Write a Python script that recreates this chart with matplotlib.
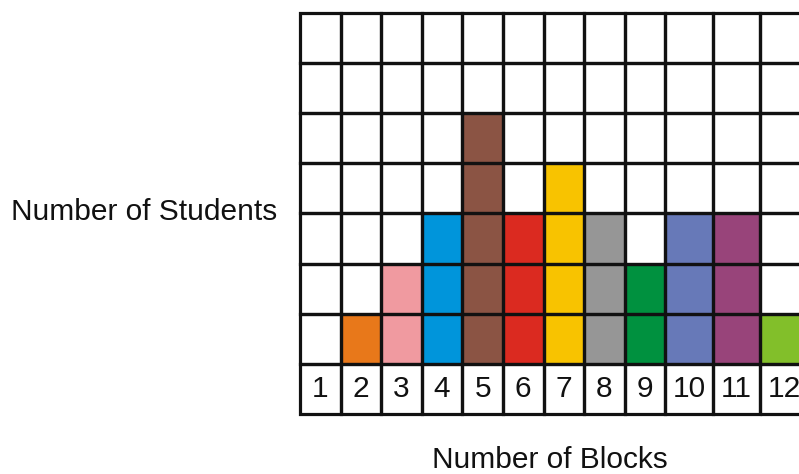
import matplotlib
matplotlib.use("Agg")
import matplotlib.pyplot as plt
from matplotlib.patches import Rectangle

plt.rcParams['font.family'] = ['Liberation Sans', 'DejaVu Sans']

# Data
blocks = ["1", "2", "3", "4", "5", "6", "7", "8", "9", "10", "11", "12"]
students = [0, 1, 2, 3, 5, 3, 4, 3, 2, 3, 3, 1]
colors = ["#FFFFFF", "#E8781A", "#F09AA0", "#0095DB", "#8B5444", "#DB2A20",
          "#F8C300", "#969696", "#00913F", "#6779B8", "#98447A", "#82BF2A"]
n_rows = 7

# Layout (column widths: two-digit columns are wider)
widths = [1.17 if len(b) > 1 else 1.0 for b in blocks]
lefts = []
acc = 0.0
for w in widths:
    lefts.append(acc)
    acc += w

W, H = 799, 474
fig = plt.figure(figsize=(W / 100, H / 100), dpi=100)
ax = fig.add_axes([0, 0, 1, 1])
colw, rowh = 40.6, 50.2
x0px, y0px = 300, 364
ax.set_xlim(-x0px / colw, (W - x0px) / colw)
ax.set_ylim(-(H - y0px) / rowh, y0px / rowh)
ax.axis('off')

lw = 2.3
ink = '#111111'
# colored bars
ax.bar(lefts, students, width=widths, align='edge', color=colors,
       edgecolor='none', zorder=1)
# grid cells
for l, w in zip(lefts, widths):
    for r in range(-1, n_rows):
        ax.add_patch(Rectangle((l, r), w, 1, fill=False, edgecolor=ink,
                               linewidth=lw, zorder=2))
# tick labels
for l, w, b in zip(lefts, widths, blocks):
    ax.text(l + w / 2, -0.5, b, ha='center', va='center', fontsize=21.5,
            color=ink, zorder=3)

fig.text(144 / W, 1 - 212 / H, "Number of Students", ha='center', va='center',
         fontsize=21.5, color=ink)
fig.text(550 / W, 1 - 460 / H, "Number of Blocks", ha='center', va='center',
         fontsize=21.5, color=ink)

fig.savefig("out.png", dpi=100)
